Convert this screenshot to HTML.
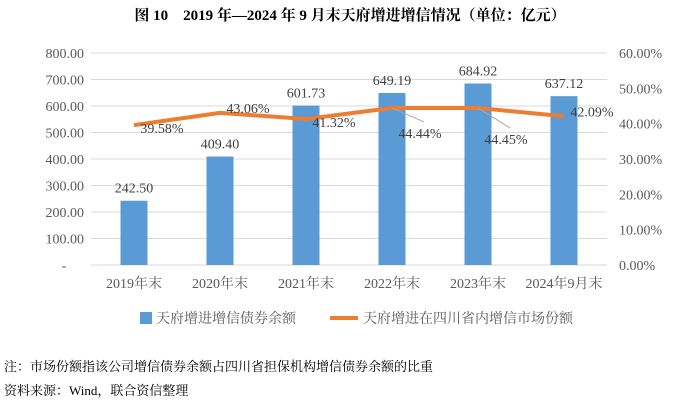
<!DOCTYPE html>
<html><head><meta charset="utf-8"><style>
body{margin:0;background:#fff;width:700px;height:403px;overflow:hidden;font-family:"Liberation Serif","Noto Serif CJK SC",serif;}
svg text{font-family:"Liberation Serif","Noto Serif CJK SC",serif;}
</style></head><body>
<svg width="700" height="403">
<text x="350" y="20" text-anchor="middle" font-size="15" font-weight="bold" fill="#000">图 10　2019 年—2024 年 9 月末天府增进增信情况（单位：亿元）</text>
<g id="grid"></g><g id="bars"></g><g id="line"></g><g id="labels"></g>
<g>
<rect x="140" y="312" width="12" height="12" fill="#5b9bd5"/>
<text x="156" y="323" font-size="14" fill="#595959">天府增进增信债券余额</text>
<line x1="330" y1="318" x2="358" y2="318" stroke="#ed7d31" stroke-width="4"/>
<text x="363" y="323" font-size="14" fill="#595959">天府增进在四川省内增信市场份额</text>
</g>
<text x="4" y="371" font-size="13" fill="#000">注：市场份额指该公司增信债券余额占四川省担保机构增信债券余额的比重</text>
<text x="4" y="395" font-size="13" fill="#000">资料来源：Wind，联合资信整理</text>
</svg>
<script>
const categories=["2019年末","2020年末","2021年末","2022年末","2023年末","2024年9月末"];
const balances=[242.50,409.40,601.73,649.19,684.92,637.12];
const shares=[39.58,43.06,41.32,44.44,44.45,42.09];
const leftTicks=[0,100,200,300,400,500,600,700,800];
const rightTicks=[0,10,20,30,40,50,60];
const NS="http://www.w3.org/2000/svg";
const x0=91,x1=607,yTop=53,yBot=265;
const bw=(x1-x0)/categories.length;
const xc=i=>x0+bw*(i+0.5);
const yL=v=>yBot-v/800*(yBot-yTop);
const yR=v=>yBot-v/60*(yBot-yTop);
function mk(tag,attrs,parent,txt){const e=document.createElementNS(NS,tag);for(const k in attrs)e.setAttribute(k,attrs[k]);if(txt!=null)e.textContent=txt;document.getElementById(parent).appendChild(e);return e;}
leftTicks.forEach(t=>{
 const g=mk("line",{x1:x0,x2:x1,y1:yL(t),y2:yL(t),stroke:"#d9d9d9","stroke-width":1},"grid");
 
 
 const l=mk("text",{x:t===0?64:84,y:yL(t)+5,"text-anchor":t===0?"middle":"end","font-size":14,fill:"#595959"},"grid",t===0?"-":t.toFixed(2));
 
 
});
rightTicks.forEach(t=>{
 const l=mk("text",{x:619,y:yR(t)+5,"font-size":14,fill:"#595959"},"grid",t.toFixed(2)+"%");
 
 
});
categories.forEach((c,i)=>{
 const l=mk("text",{x:xc(i),y:288,"text-anchor":"middle","font-size":14,fill:"#595959"},"labels",c);
 
 
});
balances.forEach((v,i)=>{
 const r=mk("rect",{x:xc(i)-13.5,y:yL(v),width:27,height:yBot-yL(v),fill:"#5b9bd5"},"bars");
 
 
 const t=mk("text",{x:xc(i),y:yL(v)-8,"text-anchor":"middle","font-size":14,fill:"#404040"},"labels",v.toFixed(2));
 
 
});
const p=mk("polyline",{points:shares.map((v,i)=>xc(i)+","+yR(v)).join(" "),fill:"none",stroke:"#ed7d31","stroke-width":4,"stroke-linejoin":"round"},"line");


const offs=[[28,8],[28,0],[28,8],[28,30],[28,36],[28,0]];
shares.forEach((v,i)=>{
 const [dx,dy]=offs[i];
 if(dy>20){const ln=mk("line",{x1:xc(i),y1:yR(v),x2:xc(i)+32,y2:yR(v)+dy-16,stroke:"#a6a6a6","stroke-width":1},"labels");
  
  }
 const t=mk("text",{x:xc(i)+dx,y:yR(v)+dy+(dy>20?0:0),"text-anchor":"middle","font-size":14,fill:"#404040"},"labels",v.toFixed(2)+"%");
 
 
});
</script>
</body></html>
